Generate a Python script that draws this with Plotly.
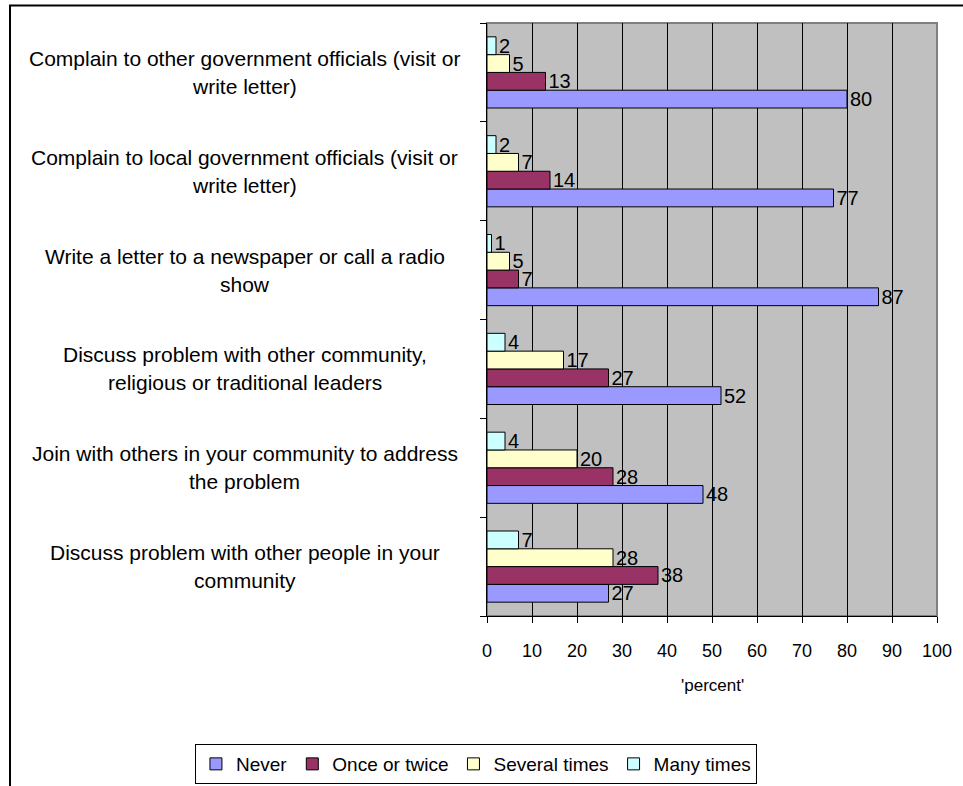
import plotly.graph_objects as go

# Survey categories, listed bottom-to-top as they appear on the y axis.
# "\n" marks where each label wraps onto its second line.
CATEGORIES = [
    "Discuss problem with other people in your\ncommunity",
    "Join with others in your community to address\nthe problem",
    "Discuss problem with other community,\nreligious or traditional leaders",
    "Write a letter to a newspaper or call a radio\nshow",
    "Complain to local government officials (visit or\nwrite letter)",
    "Complain to other government officials (visit or\nwrite letter)",
]

NEVER = [27, 48, 52, 87, 77, 80]
ONCE_OR_TWICE = [38, 28, 27, 7, 14, 13]
SEVERAL_TIMES = [28, 20, 17, 5, 7, 5]
MANY_TIMES = [7, 4, 4, 1, 2, 2]

SERIES = [
    ("Never", NEVER, "#9999FF"),
    ("Once or twice", ONCE_OR_TWICE, "#993366"),
    ("Several times", SEVERAL_TIMES, "#FFFFCC"),
    ("Many times", MANY_TIMES, "#CCFFFF"),
]

X_TICKS = list(range(0, 101, 10))
X_TITLE = "'percent'"

FONT = "Liberation Sans, Arial, sans-serif"

fig = go.Figure()
for name, values, color in SERIES:
    fig.add_trace(go.Bar(
        name=name,
        y=CATEGORIES,
        x=values,
        orientation="h",
        marker=dict(color=color, line=dict(color="black", width=1)),
        text=[str(v) for v in values],
        textposition="outside",
        textfont=dict(family=FONT, size=20, color="black"),
        constraintext="none",
        cliponaxis=False,
    ))

# Wrapped category labels, centred to the left of the plot area
for cat in CATEGORIES:
    lines = cat.split("\n")
    shifts = [14, -14] if len(lines) == 2 else [0]
    for line, shift in zip(lines, shifts):
        fig.add_annotation(
            text=line, xref="paper", yref="y", x=-0.538, y=cat,
            xanchor="center", yanchor="middle", yshift=shift,
            showarrow=False, font=dict(family=FONT, size=21, color="black"),
        )

# Axis title
fig.add_annotation(
    text=X_TITLE, xref="paper", yref="paper", x=0.5, y=-0.1164,
    xanchor="center", yanchor="middle", showarrow=False,
    font=dict(family=FONT, size=17, color="black"),
)

# Grey border around the plot area (top/right visible) and outer chart frame
fig.add_shape(type="rect", xref="paper", yref="paper", x0=0, x1=1, y0=0, y1=1,
              line=dict(color="#808080", width=2), layer="below")
fig.add_shape(type="rect", xref="paper", yref="paper",
              x0=-1.06, x1=1.09, y0=-0.34, y1=1.0295,
              line=dict(color="black", width=2), layer="above")

fig.update_layout(
    width=963, height=786,
    margin=dict(l=487, r=26, t=23, b=170, autoexpand=False),
    paper_bgcolor="white",
    plot_bgcolor="#C0C0C0",
    barmode="group",
    bargap=0.28,
    bargroupgap=0,
    font=dict(family=FONT, color="black"),
    showlegend=True,
    legend=dict(
        orientation="h",
        x=-0.649, xanchor="left",
        y=-0.2496, yanchor="middle",
        bgcolor="white", bordercolor="black", borderwidth=1,
        font=dict(family=FONT, size=19, color="black"),
        traceorder="normal",
        itemwidth=30,
        itemclick=False, itemdoubleclick=False,
    ),
    xaxis=dict(
        range=[0, 100], tickvals=X_TICKS,
        showgrid=True, gridcolor="black", gridwidth=1,
        zeroline=False, showline=True, linecolor="black", linewidth=1,
        ticks="outside", ticklen=6, tickcolor="black",
        ticklabelstandoff=12,
        tickfont=dict(family=FONT, size=18, color="black"),
        fixedrange=True,
    ),
    yaxis=dict(
        type="category", categoryorder="array", categoryarray=CATEGORIES,
        showticklabels=False, showgrid=False, zeroline=False,
        showline=True, linecolor="black", linewidth=1,
        ticks="outside", tickson="boundaries", ticklen=6, tickcolor="black",
        fixedrange=True,
    ),
)

fig.write_html("out.html")
